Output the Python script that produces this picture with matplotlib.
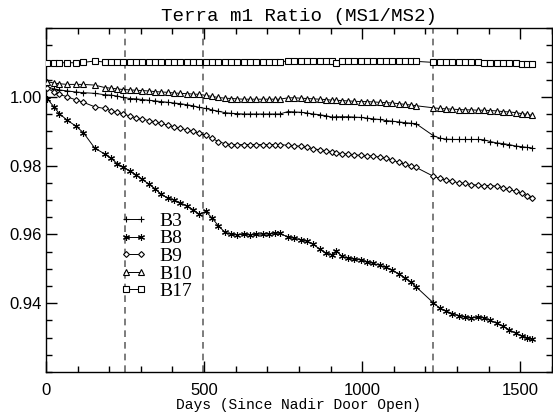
import numpy as np
import matplotlib
matplotlib.use('Agg')
import matplotlib.pyplot as plt
from matplotlib.ticker import MultipleLocator

# observation days (since nadir door open)
days = [3, 25, 42, 67, 94, 118, 154,
        185, 205, 225, 245, 265, 285, 305, 325, 345, 365, 385, 405, 425, 445,
        465, 485, 505, 525, 545, 565, 585, 605, 625, 645, 665, 685, 705, 725, 740,
        765, 785, 805, 825, 845, 865, 885, 905, 918, 935, 955, 975, 995, 1015,
        1035, 1055, 1075, 1095, 1115, 1135, 1155, 1170,
        1225, 1245, 1265, 1285, 1305, 1325, 1345, 1365, 1385, 1405, 1425, 1445,
        1465, 1485, 1505, 1520, 1538]

b3 = [1.0029, 1.0023, 1.0020, 1.0017, 1.0014, 1.0012, 1.0010,
      1.0006, 1.0005, 1.0002, 0.9998, 0.9995, 0.9994, 0.9992, 0.9990, 0.9988, 0.9986, 0.9984, 0.9982, 0.9980, 0.9977,
      0.9974, 0.9969, 0.9966, 0.9962, 0.9958, 0.9954, 0.9952, 0.9951, 0.9950, 0.9950, 0.9950, 0.9950, 0.9950, 0.9950, 0.9950,
      0.9957, 0.9956, 0.9955, 0.9953, 0.9950, 0.9948, 0.9945, 0.9941, 0.9942, 0.9942, 0.9942, 0.9941, 0.9940, 0.9938,
      0.9936, 0.9934, 0.9931, 0.9929, 0.9927, 0.9925, 0.9923, 0.9922,
      0.9887, 0.9880, 0.9877, 0.9876, 0.9876, 0.9876, 0.9876, 0.9876, 0.9875, 0.9870, 0.9866, 0.9864,
      0.9861, 0.9857, 0.9855, 0.9853, 0.9851]

b8 = [0.9995, 0.9971, 0.9951, 0.9932, 0.9915, 0.9896, 0.9851,
      0.9834, 0.9822, 0.9806, 0.9795, 0.9785, 0.9773, 0.9760, 0.9746, 0.9733, 0.9716, 0.9706, 0.9700, 0.9692, 0.9683,
      0.9672, 0.9658, 0.9667, 0.9648, 0.9625, 0.9607, 0.9600, 0.9599, 0.9600, 0.9599, 0.9600, 0.9601, 0.9601, 0.9604, 0.9603,
      0.9592, 0.9589, 0.9585, 0.9580, 0.9572, 0.9557, 0.9546, 0.9541, 0.9553, 0.9536, 0.9531, 0.9528, 0.9526, 0.9521,
      0.9516, 0.9510, 0.9504, 0.9496, 0.9486, 0.9474, 0.9461, 0.9448,
      0.9401, 0.9386, 0.9377, 0.9370, 0.9364, 0.9360, 0.9357, 0.9359, 0.9358, 0.9350, 0.9342, 0.9333,
      0.9323, 0.9313, 0.9305, 0.9300, 0.9296]

b9 = [1.0025, 1.0014, 1.0007, 1.0000, 0.9991, 0.9984, 0.9971,
      0.9966, 0.9960, 0.9955, 0.9950, 0.9944, 0.9939, 0.9935, 0.9931, 0.9927, 0.9923, 0.9917, 0.9913, 0.9908, 0.9904,
      0.9900, 0.9894, 0.9888, 0.9879, 0.9870, 0.9864, 0.9861, 0.9861, 0.9861, 0.9861, 0.9861, 0.9861, 0.9861, 0.9861, 0.9861,
      0.9859, 0.9858, 0.9856, 0.9853, 0.9849, 0.9846, 0.9843, 0.9839, 0.9837, 0.9835, 0.9833, 0.9831, 0.9830, 0.9829,
      0.9827, 0.9825, 0.9821, 0.9816, 0.9810, 0.9804, 0.9799, 0.9795,
      0.9769, 0.9763, 0.9758, 0.9754, 0.9750, 0.9748, 0.9745, 0.9743, 0.9742, 0.9742, 0.9740, 0.9736,
      0.9731, 0.9725, 0.9719, 0.9713, 0.9707]

b10 = [1.0044, 1.0040, 1.0038, 1.0036, 1.0036, 1.0036, 1.0034,
       1.0027, 1.0025, 1.0023, 1.0021, 1.0020, 1.0019, 1.0018, 1.0017, 1.0015, 1.0014, 1.0013, 1.0011, 1.0010, 1.0009,
       1.0008, 1.0007, 1.0004, 1.0001, 0.9998, 0.9996, 0.9995, 0.9994, 0.9993, 0.9993, 0.9993, 0.9993, 0.9993, 0.9993, 0.9993,
       0.9997, 0.9997, 0.9996, 0.9995, 0.9994, 0.9993, 0.9992, 0.9990, 0.9990, 0.9989, 0.9988, 0.9987, 0.9986, 0.9986,
       0.9985, 0.9984, 0.9983, 0.9982, 0.9980, 0.9978, 0.9976, 0.9974,
       0.9968, 0.9966, 0.9965, 0.9964, 0.9963, 0.9962, 0.9962, 0.9961, 0.9961, 0.9960, 0.9959, 0.9957,
       0.9956, 0.9954, 0.9951, 0.9949, 0.9946]

b17 = [1.0099, 1.0099, 1.0099, 1.0099, 1.0099, 1.0100, 1.0104,
       1.0101, 1.0101, 1.0101, 1.0102, 1.0101, 1.0101, 1.0101, 1.0102, 1.0101, 1.0101, 1.0101, 1.0101, 1.0101, 1.0101,
       1.0101, 1.0101, 1.0100, 1.0100, 1.0100, 1.0100, 1.0100, 1.0100, 1.0100, 1.0100, 1.0100, 1.0101, 1.0100, 1.0100, 1.0100,
       1.0105, 1.0105, 1.0104, 1.0104, 1.0104, 1.0103, 1.0104, 1.0104, 1.0097, 1.0103, 1.0103, 1.0103, 1.0103, 1.0103,
       1.0103, 1.0103, 1.0103, 1.0103, 1.0103, 1.0103, 1.0103, 1.0103,
       1.0100, 1.0100, 1.0100, 1.0101, 1.0101, 1.0102, 1.0100, 1.0100, 1.0099, 1.0099, 1.0099, 1.0098,
       1.0098, 1.0097, 1.0096, 1.0096, 1.0096]

events = [250, 495, 1225]

bands = ['B3', 'B8', 'B9', 'B10', 'B17']
series = [b3, b8, b9, b10, b17]
markers = ['+', (6, 2, 0), 'D', '^', 's']
msizes = [5, 5, 3, 4.5, 4.5]

fig = plt.figure(figsize=(5.53, 4.19), dpi=100)
fig.set_facecolor('white')
ax = fig.add_axes([0.0832, 0.1122, 0.9148, 0.821])

for d in events:
    ax.axvline(d, color='#666666', ls=(0, (4, 3)), lw=1.2, zorder=1)

for name, vals, m, ms in zip(bands, series, markers, msizes):
    ax.plot(days, vals, color='black', lw=0.7, marker=m, ms=ms,
            mfc='white' if m in ('D', '^', 's') else 'black',
            mec='black', mew=0.8, label=name, zorder=3)

ax.set_xlim(0, 1600)
ax.set_ylim(0.92, 1.02)
ax.xaxis.set_major_locator(MultipleLocator(500))
ax.xaxis.set_minor_locator(MultipleLocator(100))
ax.yaxis.set_minor_locator(MultipleLocator(0.005))
ax.set_yticks([0.94, 0.96, 0.98, 1.00])
ax.set_yticklabels(['0.94', '0.96', '0.98', '1.00'])
ax.tick_params(which='both', direction='in', top=True, right=True, labelsize=12)
ax.tick_params(which='major', length=8, width=1)
ax.tick_params(which='minor', length=4, width=1)
ax.tick_params(axis='x', pad=8)
ax.tick_params(axis='y', pad=3)
for lab in ax.get_xticklabels() + ax.get_yticklabels():
    lab.set_family('Liberation Sans')
for sp in ax.spines.values():
    sp.set_linewidth(1.0)

ax.set_title('Terra m1 Ratio (MS1/MS2)', family='Liberation Mono', fontsize=13.8, pad=5)
ax.set_xlabel('Days (Since Nadir Door Open)', family='Liberation Mono', fontsize=10.5, labelpad=0)

leg = ax.legend(loc='upper left', bbox_to_anchor=(0.131, 0.487), frameon=False,
                numpoints=2, handlelength=1.4, handletextpad=0.6, labelspacing=0.0,
                prop={'family': 'Liberation Serif', 'size': 14}, borderaxespad=0)

plt.savefig('out.png', dpi=100)
